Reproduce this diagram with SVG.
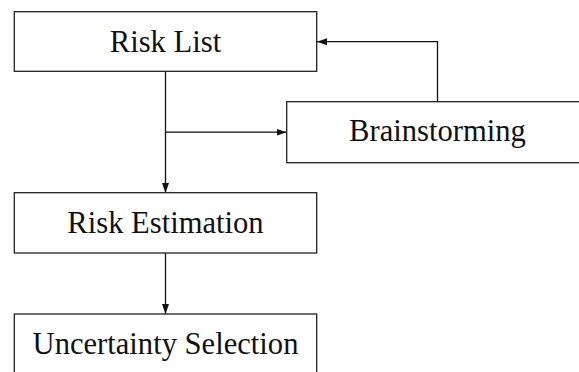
<svg xmlns="http://www.w3.org/2000/svg" width="579" height="372" viewBox="0 0 579 372">
  <style>
    .box { fill: #ffffff; stroke: #222222; stroke-width: 1.3; }
    .label { font-family: "Liberation Serif", "Times New Roman", serif; font-size: 30.6px; fill: #111111; text-anchor: middle; }
    .wire { fill: none; stroke: #111111; stroke-width: 1.3; }
  </style>
  <defs>
    <marker id="tip" markerUnits="userSpaceOnUse" markerWidth="12" markerHeight="9" refX="10" refY="4.5" orient="auto">
      <path d="M0,1 L10,4.5 L0,8 z" fill="#111111"/>
    </marker>
  </defs>
  <rect width="579" height="372" fill="#ffffff"/>

  <g id="connectors">
    <!-- Risk List down to Risk Estimation -->
    <path class="wire" d="M165.5,71 V193" marker-end="url(#tip)"/>
    <!-- branch to Brainstorming -->
    <path class="wire" d="M165.5,132.2 H286.5" marker-end="url(#tip)"/>
    <!-- Brainstorming feeds back into Risk List -->
    <path class="wire" d="M437.5,102 V41.7 H317" marker-end="url(#tip)"/>
    <!-- Risk Estimation down to Uncertainty Selection -->
    <path class="wire" d="M165.5,253 V314" marker-end="url(#tip)"/>
  </g>

  <g id="risk-list">
    <rect class="box" x="14.3" y="11.7" width="302.4" height="59.6"/>
    <text class="label" x="165.5" y="52">Risk List</text>
  </g>

  <g id="brainstorming">
    <rect class="box" x="286.7" y="101.7" width="302.4" height="61"/>
    <text class="label" x="437.5" y="140.5">Brainstorming</text>
  </g>

  <g id="risk-estimation">
    <rect class="box" x="14.3" y="192.7" width="302.4" height="60.3"/>
    <text class="label" x="165.5" y="233.3">Risk Estimation</text>
  </g>

  <g id="uncertainty-selection">
    <rect class="box" x="14.3" y="314" width="302.4" height="60"/>
    <text class="label" x="165.5" y="353.5">Uncertainty Selection</text>
  </g>
</svg>
